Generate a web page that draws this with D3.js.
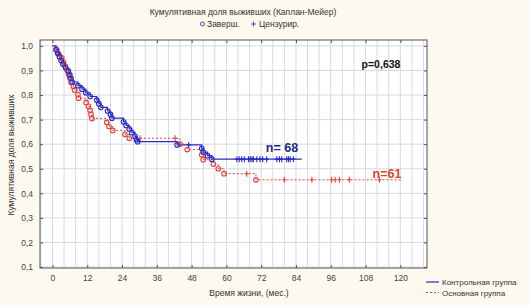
<!DOCTYPE html>
<meta charset="utf-8">
<script src="https://d3js.org/d3.v7.min.js"></script>
<style>
  body { margin: 0; background: #fdf9ee; }
  text { font-family: "Liberation Sans", Arial, sans-serif; }
</style>
<body>
<div id="chart"></div>
<script>

// Control group (solid blue): [month, survival] at each event
var controlEvents = [
  [0, 1.0], [1.2, 0.985], [1.8, 0.970], [2.4, 0.956], [3.0, 0.941], [3.6, 0.926],
  [4.5, 0.912], [5.5, 0.897], [6.0, 0.882], [6.4, 0.868], [6.8, 0.853], [8.8, 0.838],
  [10.2, 0.824], [11.5, 0.809], [13.0, 0.794], [15.3, 0.779], [16.0, 0.765], [16.7, 0.750],
  [19.0, 0.735], [20.0, 0.721], [20.5, 0.706], [24.5, 0.691], [25.4, 0.676], [26.5, 0.662],
  [27.4, 0.647], [28.5, 0.632], [29.0, 0.618], [29.4, 0.610], [43.0, 0.597], [51.5, 0.582],
  [52.0, 0.568], [53.5, 0.553], [55.0, 0.539]
];
var controlEnd = 86;
var controlCensored = [
  [47.0, 0.597], [63.6, 0.539], [64.4, 0.539], [65.3, 0.539], [66.2, 0.539], [67.6, 0.539],
  [68.2, 0.539], [68.8, 0.539], [69.3, 0.539], [70.5, 0.539], [71.6, 0.539], [72.5, 0.539],
  [73.9, 0.539], [77.4, 0.539], [78.3, 0.539], [79.1, 0.539], [80.8, 0.539], [81.4, 0.539],
  [82.0, 0.539], [83.1, 0.539]
];

// Main group (dashed red)
var mainEvents = [
  [0, 1.0], [1.5, 0.984], [2.1, 0.967], [3.2, 0.951], [3.8, 0.934], [4.4, 0.918],
  [5.0, 0.902], [5.5, 0.885], [6.0, 0.869], [6.4, 0.852], [7.2, 0.836], [7.6, 0.820],
  [8.8, 0.803], [9.0, 0.787], [11.6, 0.770], [12.4, 0.754], [13.0, 0.738], [13.3, 0.721],
  [13.6, 0.705], [18.7, 0.689], [19.5, 0.672], [20.8, 0.656], [25.0, 0.640], [26.5, 0.624],
  [44.0, 0.600], [46.5, 0.578], [51.5, 0.557], [52.0, 0.537], [55.5, 0.519], [57.2, 0.500],
  [59.2, 0.480], [70.2, 0.455]
];
var mainEnd = 120.5;
var mainCensored = [
  [30.2, 0.624], [42.3, 0.624], [67.0, 0.480], [80.0, 0.455], [89.5, 0.455], [96.3, 0.455],
  [97.5, 0.455], [99.0, 0.455], [102.4, 0.455], [112.8, 0.455]
];

var xTicks = [0, 12, 24, 36, 48, 60, 72, 84, 96, 108, 120];
var yTicks = [0.1, 0.2, 0.3, 0.4, 0.5, 0.6, 0.7, 0.8, 0.9, 1.0];

var blue = "#2b2bc4", red = "#e0463c";

var svg = d3.select("#chart").append("svg")
  .attr("width", 530).attr("height", 305);

var x = d3.scaleLinear().domain([-4.3, 129.2]).range([40, 427]);
var y = d3.scaleLinear().domain([0.096, 1.024]).range([268, 40]);

// plot background
svg.append("rect").attr("x", 40).attr("y", 40).attr("width", 387).attr("height", 228)
  .attr("fill", "#ffffff");

// grid
svg.append("g").selectAll("line").data(d3.range(-4, 129, 4)).enter().append("line")
  .attr("x1", d => x(d)).attr("x2", d => x(d)).attr("y1", 40).attr("y2", 268)
  .attr("stroke", "#d6d9e6").attr("stroke-width", 1);
svg.append("g").selectAll("line").data(yTicks).enter().append("line")
  .attr("x1", 40).attr("x2", 427).attr("y1", d => y(d)).attr("y2", d => y(d))
  .attr("stroke", "#d6d9e6").attr("stroke-width", 1);

// axes (ticks inside the frame on all sides)
function styleAxis(g) {
  g.select(".domain").remove();
  g.selectAll(".tick line").attr("stroke", "#555");
  g.selectAll(".tick text").attr("fill", "#444").style("font-size", "8.5px")
    .style("font-family", "Liberation Sans, Arial, sans-serif");
}
svg.append("g").attr("transform", "translate(0,268)")
  .call(d3.axisBottom(x).tickValues(xTicks).tickSize(-3).tickPadding(7).tickFormat(d3.format("d")))
  .call(styleAxis);
svg.append("g").attr("transform", "translate(0,40)")
  .call(d3.axisTop(x).tickValues(xTicks).tickSize(-3).tickFormat(""))
  .call(styleAxis);
svg.append("g").attr("transform", "translate(40,0)")
  .call(d3.axisLeft(y).tickValues(yTicks).tickSize(-3).tickPadding(7)
    .tickFormat(d => d3.format(".1f")(d).replace(".", ",")))
  .call(styleAxis);
svg.append("g").attr("transform", "translate(427,0)")
  .call(d3.axisRight(y).tickValues(yTicks).tickSize(-3).tickFormat(""))
  .call(styleAxis);

svg.append("rect").attr("x", 40).attr("y", 40).attr("width", 387).attr("height", 228)
  .attr("fill", "none").attr("stroke", "#555").attr("stroke-width", 1);

// step curves
function stepPoints(events, end) {
  var pts = events.slice();
  pts.push([end, events[events.length - 1][1]]);
  return pts;
}
var stepLine = d3.line().curve(d3.curveStepAfter)
  .x(d => x(d[0])).y(d => y(d[1]));

svg.append("path").datum(stepPoints(mainEvents, mainEnd))
  .attr("fill", "none").attr("stroke", red).attr("stroke-width", 1)
  .attr("stroke-dasharray", "2,2").attr("d", stepLine);
svg.append("path").datum(stepPoints(controlEvents, controlEnd))
  .attr("fill", "none").attr("stroke", blue).attr("stroke-width", 1.2)
  .attr("d", stepLine);

function drawMarks(events, censored, color) {
  var g = svg.append("g");
  g.selectAll("circle").data(events.slice(1)).enter().append("circle")
    .attr("cx", d => x(d[0])).attr("cy", d => y(d[1])).attr("r", 2.3)
    .attr("fill", "none").attr("stroke", color).attr("stroke-width", 1.1);
  g.selectAll("path").data(censored).enter().append("path")
    .attr("d", d => "M" + (x(d[0]) - 2) + "," + y(d[1]) + "h4M" + x(d[0]) + "," + (y(d[1]) - 3) + "v6")
    .attr("stroke", color).attr("stroke-width", 1.1);
}
drawMarks(mainEvents, mainCensored, red);
drawMarks(controlEvents, controlCensored, blue);

// annotations
svg.append("text").attr("x", 381).attr("y", 68).attr("text-anchor", "middle")
  .style("font-size", "10.5px").style("font-weight", "bold").attr("fill", "#111").text("p=0,638");
svg.append("text").attr("x", 282).attr("y", 152).attr("text-anchor", "middle")
  .style("font-size", "12.5px").style("font-weight", "bold").attr("fill", "#1c2c86").text("n= 68");
svg.append("text").attr("x", 387).attr("y", 178).attr("text-anchor", "middle")
  .style("font-size", "12.5px").style("font-weight", "bold").attr("fill", "#d24a2c").text("n=61");

// title and top legend
svg.append("text").attr("x", 243).attr("y", 15).attr("text-anchor", "middle")
  .style("font-size", "8.5px").attr("fill", "#333").text("Кумулятивная доля выживших (Каплан-Мейер)");
svg.append("circle").attr("cx", 202.5).attr("cy", 24).attr("r", 2)
  .attr("fill", "none").attr("stroke", "#6040b0").attr("stroke-width", 1);
svg.append("text").attr("x", 207).attr("y", 27).style("font-size", "8.5px").attr("fill", "#333").text("Заверш.");
svg.append("path").attr("d", "M251,24h5M253.5,21.5v5").attr("stroke", "#6040b0").attr("stroke-width", 1);
svg.append("text").attr("x", 259).attr("y", 27).style("font-size", "8.5px").attr("fill", "#333").text("Цензурир.");

// axis titles
svg.append("text").attr("x", 249).attr("y", 296).attr("text-anchor", "middle")
  .style("font-size", "8.5px").attr("fill", "#333").text("Время жизни, (мес.)");
svg.append("text").attr("transform", "translate(14,155) rotate(-90)").attr("text-anchor", "middle")
  .style("font-size", "8.5px").attr("fill", "#333").text("Кумулятивная доля выживших");

// bottom legend
svg.append("line").attr("x1", 426).attr("x2", 439).attr("y1", 282).attr("y2", 282)
  .attr("stroke", blue).attr("stroke-width", 1.2);
svg.append("text").attr("x", 442).attr("y", 285).style("font-size", "8px").attr("fill", "#333").text("Контрольная группа");
svg.append("line").attr("x1", 426).attr("x2", 439).attr("y1", 292.5).attr("y2", 292.5)
  .attr("stroke", red).attr("stroke-width", 1).attr("stroke-dasharray", "2,2");
svg.append("text").attr("x", 442).attr("y", 295.5).style("font-size", "8px").attr("fill", "#333").text("Основная группа");

</script>
</body>
